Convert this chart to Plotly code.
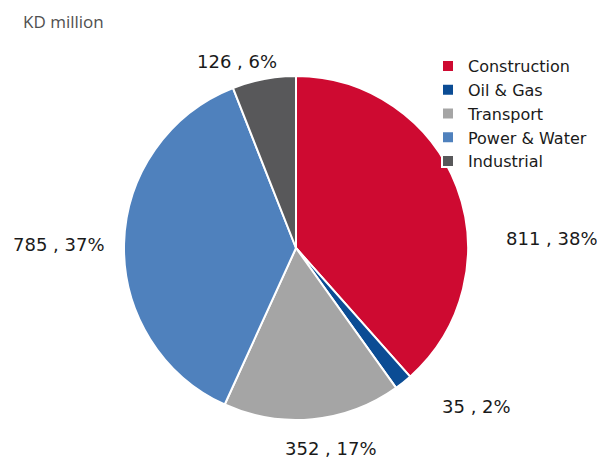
import plotly.graph_objects as go

categories = ["Construction", "Oil & Gas", "Transport", "Power & Water", "Industrial"]
values = [811, 35, 352, 785, 126]
colors = ["#CE0A31", "#0B4C94", "#A5A5A5", "#4F81BD", "#58585A"]

# page has an 8px body margin; figure is sized to fit the window
OFF = 8
W, H = 605 - OFF, 459 - OFF

# label centres in window pixels (placement only)
label_px = [(552, 238), (476, 406), (331, 448), (59, 244), (237, 61)]

cx, cy, r = 296 - OFF, 248 - OFF, 172

def px_to_paper(x, y):
    return (x - OFF) / W, 1 - (y - OFF) / H

fig = go.Figure(go.Pie(
    labels=categories, values=values, sort=False, direction="clockwise", rotation=0,
    marker=dict(colors=colors, line=dict(color="white", width=2)),
    textinfo="none", hoverinfo="label+value+percent",
    domain=dict(x=[(cx - r) / W, (cx + r) / W], y=[(H - cy - r) / H, (H - cy + r) / H]),
))

total = sum(values)
for v, (lx, ly) in zip(values, label_px):
    pct = round(100 * v / total)
    px, py = px_to_paper(lx, ly)
    fig.add_annotation(x=px, y=py, xref="paper", yref="paper", showarrow=False,
                       text=f"{v} , {pct}%", xanchor="center", yanchor="middle",
                       font=dict(family="DejaVu Sans", size=18, color="#1a1a1a"))

tx, ty = px_to_paper(21, 22)
fig.add_annotation(x=tx, y=ty, xref="paper", yref="paper", showarrow=False,
                   text="KD million", xanchor="left", yanchor="middle",
                   font=dict(family="Open Sans", size=17, color="#505050"))

lx, ly = px_to_paper(428, 49)
fig.update_layout(
    width=W, height=H, margin=dict(l=0, r=0, t=0, b=0),
    paper_bgcolor="white", plot_bgcolor="white",
    showlegend=True,
    legend=dict(x=lx, y=ly, xanchor="left", yanchor="top",
                font=dict(family="DejaVu Sans", size=16, color="#1a1a1a"),
                tracegroupgap=0, itemwidth=30, bgcolor="rgba(0,0,0,0)"),
)

fig.write_html("out.html")
